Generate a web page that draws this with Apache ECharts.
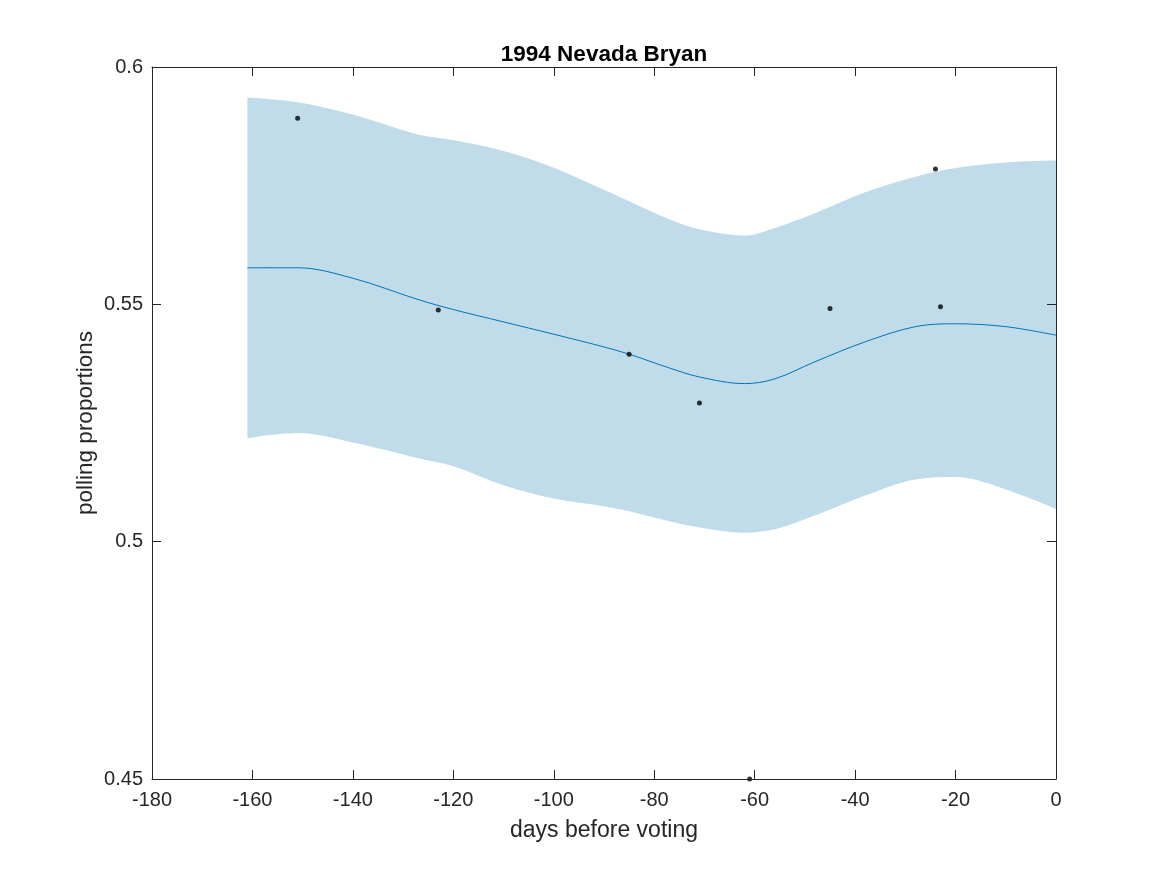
<!DOCTYPE html>
<html>
<head>
<meta charset="utf-8">
<script src="https://cdn.jsdelivr.net/npm/echarts@6/dist/echarts.min.js"></script>
<style>
html,body{margin:0;padding:0;background:#fff;}
#main{width:1167px;height:875px;}
</style>
</head>
<body>
<div id="main"></div>
<script>
// ---- data ----
const bandX = [-161,-151,-140,-127,-120,-110,-100,-91,-85,-77,-71,-62,-56,-48,-38,-28,-20,-10,0];
const upperVals = [0.5936,0.5926,0.5900,0.5858,0.5846,0.5823,0.5788,0.5746,0.5717,0.5679,0.5658,0.5645,0.5661,0.5692,0.5736,0.5769,0.5787,0.5799,0.5803];
const meanVals  = [0.5577,0.5577,0.5555,0.5510,0.5489,0.5463,0.5437,0.5413,0.5395,0.5366,0.5347,0.5333,0.5343,0.5379,0.5421,0.5453,0.5459,0.5453,0.5435];
const lowerVals = [0.5218,0.5229,0.5209,0.5176,0.5159,0.5119,0.5091,0.5076,0.5064,0.5043,0.5030,0.5019,0.5026,0.5055,0.5097,0.5131,0.5136,0.5110,0.5069];
const pollDays  = [-151,-123,-85,-71,-61,-45,-24,-23];
const pollVals  = [0.5892,0.5488,0.5395,0.5292,0.4500,0.5491,0.5785,0.5495];
const xTicks = [-180,-160,-140,-120,-100,-80,-60,-40,-20,0];
const yTicks = [0.45,0.5,0.55,0.6];

const font = 'Liberation Sans, Arial, Helvetica, sans-serif';
const meanData = bandX.map((x,i)=>[x, meanVals[i]]);
const pollData = pollDays.map((x,i)=>[x, pollVals[i]]);
const SM = 0.35;

// Smooth path (same control-point rule as ECharts' smoothed line) through pixel points.
function smoothSegs(pts, smooth){
  const out = [];
  const mn=Math.min, mx=Math.max;
  let prevX, prevY, cpx0, cpy0, cpx1, cpy1;
  for (let i=0;i<pts.length;i++){
    const x=pts[i][0], y=pts[i][1];
    if (i===0){ cpx0=x; cpy0=y; }
    else {
      let nextCpx0, nextCpy0;
      if (i===pts.length-1){ cpx1=x; cpy1=y; }
      else {
        const nextX=pts[i+1][0], nextY=pts[i+1][1];
        let vx=nextX-prevX, vy=nextY-prevY;
        const dx0=x-prevX, dx1=nextX-x, dy0=y-prevY, dy1=nextY-y;
        const lp=Math.sqrt(dx0*dx0+dy0*dy0), ln=Math.sqrt(dx1*dx1+dy1*dy1);
        const r=ln/(ln+lp);
        nextCpx0=x+vx*smooth*r; nextCpy0=y+vy*smooth*r;
        nextCpx0=mn(nextCpx0,mx(nextX,x)); nextCpy0=mn(nextCpy0,mx(nextY,y));
        nextCpx0=mx(nextCpx0,mn(nextX,x)); nextCpy0=mx(nextCpy0,mn(nextY,y));
        vx=nextCpx0-x; vy=nextCpy0-y;
        cpx1=x-vx*lp/ln; cpy1=y-vy*lp/ln;
        cpx1=mn(cpx1,mx(prevX,x)); cpy1=mn(cpy1,mx(prevY,y));
        cpx1=mx(cpx1,mn(prevX,x)); cpy1=mx(cpy1,mn(prevY,y));
        vx=x-cpx1; vy=y-cpy1;
        nextCpx0=x+vx*ln/lp; nextCpy0=y+vy*ln/lp;
      }
      out.push('C'+cpx0.toFixed(2)+','+cpy0.toFixed(2)+' '+cpx1.toFixed(2)+','+cpy1.toFixed(2)+' '+x.toFixed(2)+','+y.toFixed(2));
      cpx0=nextCpx0; cpy0=nextCpy0;
    }
    prevX=x; prevY=y;
  }
  return out.join(' ');
}

function renderBand(params, api){
  const up = bandX.map((x,i)=>api.coord([x, upperVals[i]]));
  const lo = bandX.map((x,i)=>api.coord([x, lowerVals[i]])).reverse();
  const d = 'M'+up[0][0].toFixed(2)+','+up[0][1].toFixed(2)+' '+smoothSegs(up,SM)+
            ' L'+lo[0][0].toFixed(2)+','+lo[0][1].toFixed(2)+' '+smoothSegs(lo,SM)+' Z';
  return {
    type:'path',
    shape:{pathData:d},
    style:{fill:'#c0dcea', stroke:null},
    silent:true
  };
}

const chart = echarts.init(document.getElementById('main'), null, {renderer:'canvas'});
const axisCommon = {
  z:10,
  axisLine:{show:true, onZero:false, lineStyle:{color:'#262626', width:1}},
  axisTick:{show:true, inside:true, length:9, lineStyle:{color:'#262626', width:1}},
  splitLine:{show:false}
};
chart.setOption({
  animation:false,
  backgroundColor:'#fff',
  title:{
    text:'1994 Nevada Bryan',
    left:599, top:38, textAlign:'center',
    textStyle:{fontFamily:font, fontSize:22.5, fontWeight:'bold', color:'#000'}
  },
  grid:{left:152, right:111, top:67, bottom:96, containLabel:false},
  xAxis:[
    Object.assign({
      type:'value', min:-180, max:0, interval:20, position:'bottom',
      name:'days before voting', nameLocation:'middle', nameGap:40, nameMoveOverlap:false,
      nameTextStyle:{fontFamily:font, fontSize:23, color:'#262626'},
      axisLabel:{fontFamily:font, fontSize:20, color:'#262626', margin:11,
        formatter:v=>xTicks.includes(v)?String(v):''}
    }, axisCommon),
    Object.assign({
      type:'value', min:-180, max:0, interval:20, position:'top',
      axisLabel:{show:false}
    }, axisCommon)
  ],
  yAxis:[
    Object.assign({
      type:'value', min:0.45, max:0.6, interval:0.05, position:'left',
      name:'polling proportions', nameLocation:'middle', nameGap:55, nameRotate:90, nameMoveOverlap:false,
      nameTextStyle:{fontFamily:font, fontSize:22.5, color:'#262626'},
      axisLabel:{fontFamily:font, fontSize:20, color:'#262626', margin:9,
        formatter:v=>{const t=yTicks.find(y=>Math.abs(y-v)<1e-9);return t===undefined?'':String(t);}}
    }, axisCommon),
    Object.assign({
      type:'value', min:0.45, max:0.6, interval:0.05, position:'right',
      axisLabel:{show:false}
    }, axisCommon)
  ],
  series:[
    {
      name:'band', type:'custom', data:[[bandX[0], upperVals[0]]], renderItem:renderBand,
      silent:true, z:1, clip:true
    },
    {
      name:'mean', type:'line', data:meanData, smooth:SM, symbol:'none',
      lineStyle:{color:'#0072bd', width:1}, z:3
    },
    {
      name:'polls', type:'scatter', data:pollData, symbol:'circle', symbolSize:5,
      itemStyle:{color:'#000'}, z:4, clip:false
    }
  ]
});
</script>
</body>
</html>
